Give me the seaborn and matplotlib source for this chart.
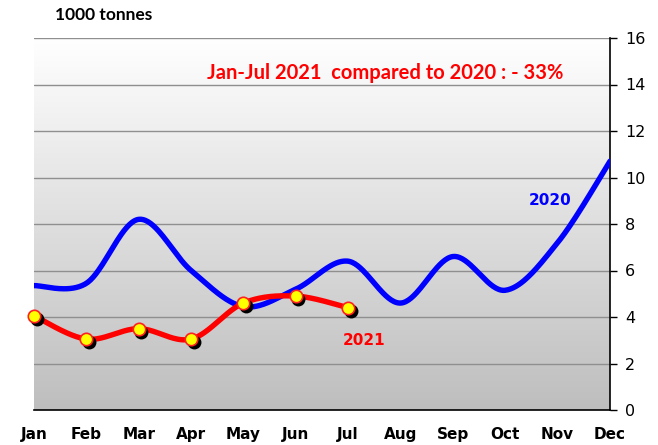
import numpy as np
import pandas as pd
import matplotlib
matplotlib.use("Agg")
import matplotlib.pyplot as plt
import matplotlib.transforms as mtransforms
import seaborn as sns

months = ["Jan", "Feb", "Mar", "Apr", "May", "Jun", "Jul", "Aug", "Sep", "Oct", "Nov", "Dec"]
values_2020 = [5.35, 5.45, 8.2, 6.0, 4.45, 5.2, 6.4, 4.6, 6.6, 5.15, 7.2, 10.7]
values_2021 = [4.05, 3.05, 3.5, 3.05, 4.6, 4.9, 4.4]
y_ticks = [0, 2, 4, 6, 8, 10, 12, 14, 16]


def smooth(xs, ys, n=40):
    """Bezier smoothing through every point (spreadsheet-style smoothed line)."""
    P = np.column_stack([xs, ys]).astype(float)
    m = len(P)
    out = []
    for i in range(m - 1):
        p0 = P[i - 1] if i > 0 else P[i]
        p1, p2 = P[i], P[i + 1]
        p3 = P[i + 2] if i + 2 < m else P[i + 1]
        c1 = p1 + (p2 - p0) / 6.0
        c2 = p2 - (p3 - p1) / 6.0
        t = np.linspace(0, 1, n)[:, None]
        seg = ((1 - t) ** 3) * p1 + 3 * ((1 - t) ** 2) * t * c1 + 3 * (1 - t) * t ** 2 * c2 + t ** 3 * p2
        out.append(seg if i == 0 else seg[1:])
    return np.vstack(out)


sns.set_style("white")
plt.rcParams["font.family"] = ["DejaVu Sans"]
plt.rcParams["text.color"] = "black"
plt.rcParams["xtick.color"] = "black"
plt.rcParams["ytick.color"] = "black"

x20 = np.arange(len(values_2020))
x21 = np.arange(len(values_2021))
c20 = smooth(x20, values_2020)
c21 = smooth(x21, values_2021)
curve20 = pd.DataFrame({"x": c20[:, 0], "y": c20[:, 1]})
curve21 = pd.DataFrame({"x": c21[:, 0], "y": c21[:, 1]})
pts21 = pd.DataFrame({"x": x21, "y": values_2021})

W, H = 658, 445
fig = plt.figure(figsize=(W / 100, H / 100), dpi=100)
ax = fig.add_axes([34 / W, (H - 410) / H, (610 - 34) / W, (410 - 38) / H])

ax.set_xlim(0, 11)
ax.set_ylim(0, 16)

# vertical gradient background
grad = np.linspace(1, 0, 256)[:, None]
cmap = matplotlib.colors.LinearSegmentedColormap.from_list("bg", ["#bebebe", "#ffffff"])
ax.imshow(grad, extent=[0, 11, 0, 16], aspect="auto", cmap=cmap, origin="upper",
          vmin=0, vmax=1, zorder=0)

for yv in y_ticks[1:]:
    ax.axhline(yv, color="#8f8f8f", lw=1.0, zorder=1)

sns.lineplot(data=curve20, x="x", y="y", ax=ax, color="#0000ff", lw=3.9,
             sort=False, estimator=None, zorder=3)
sns.lineplot(data=curve21, x="x", y="y", ax=ax, color="#ff0000", lw=3.9,
             sort=False, estimator=None, zorder=4)

# marker shadows
shadow = mtransforms.offset_copy(ax.transData, fig=fig, x=2.5, y=-3, units="dots")
ax.scatter(pts21["x"], pts21["y"], s=100, color="black", transform=shadow, zorder=5,
           linewidths=0, clip_on=False)
sns.scatterplot(data=pts21, x="x", y="y", ax=ax, s=80, color="#ffff00",
                edgecolor="#ff2020", linewidth=1.2, zorder=6, clip_on=False)

ax.set_xticks(range(12))
ax.set_xticklabels(months, fontweight="bold", fontsize=11)
ax.set_yticks(y_ticks)
ax.yaxis.tick_right()
ax.tick_params(axis="y", labelsize=11.5, length=5, width=1, direction="out", color="black", pad=6)
ax.tick_params(axis="x", length=5, width=1, direction="out", color="black", pad=7)
ax.set_xlabel("")
ax.set_ylabel("")
for s in ["top", "left"]:
    ax.spines[s].set_visible(False)
for s in ["bottom", "right"]:
    ax.spines[s].set_color("black")
    ax.spines[s].set_linewidth(1.2)

fig.text(55 / W, 1 - 15 / H, "1000 tonnes", fontsize=12.5, fontweight="bold",
         family="Lato", color="black", va="center", ha="left")
ax.text(6.7, 14.5, "Jan-Jul 2021  compared to 2020 : - 33%", color="#ff0000",
        fontsize=14.5, fontweight="bold", family="Lato", ha="center", va="center")
ax.text(9.85, 9.0, "2020", color="#0000ff", fontsize=11, fontweight="bold",
        ha="center", va="center")
ax.text(6.3, 3.0, "2021", color="#ff0000", fontsize=11, fontweight="bold",
        ha="center", va="center")

fig.savefig("out.png", dpi=100)
